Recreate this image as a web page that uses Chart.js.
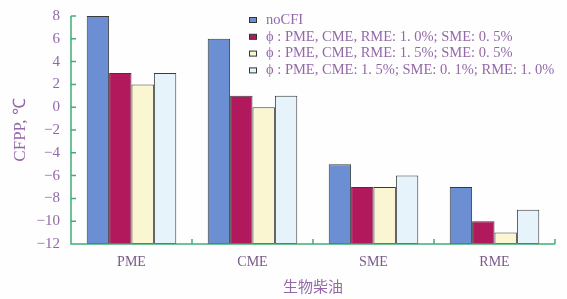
<!DOCTYPE html>
<html><head><meta charset="utf-8">
<script src="https://cdn.jsdelivr.net/npm/chart.js@4"></script>
<style>html,body{margin:0;padding:0;background:#fefefe}#c{display:block}</style>
</head><body>
<canvas id="c" width="567" height="299"></canvas>
<script>
const categories = ["PME", "CME", "SME", "RME"];
const seriesLabels = [
  "noCFI",
  "\u03d5 : PME, CME, RME: 1. 0%; SME: 0. 5%",
  "\u03d5 : PME, CME, RME: 1. 5%; SME: 0. 5%",
  "\u03d5 : PME, CME: 1. 5%; SME: 0. 1%; RME: 1. 0%"
];
const noCFI = [8, 6, -5, -7];
const cfiA = [3, 1, -7, -10];
const cfiB = [2, 0, -7, -11];
const cfiC = [3, 1, -6, -9];
const yTicks = [8, 6, 4, 2, 0, -2, -4, -6, -8, -10, -12];
const yMin = -12, yMax = 8;

const fills = ["#6b8fd2", "#b2185c", "#fbf6d2", "#e6f3fa"];
const purple = "#9468a8";
const green = "#3fae76";
const serif = "'Liberation Serif', 'Times New Roman', serif";

const decor = {
  id: 'decor',
  afterDraw(chart) {
    const ctx = chart.ctx, a = chart.chartArea;
    const xs = chart.scales.x, ys = chart.scales.y;
    ctx.save();
    ctx.strokeStyle = green; ctx.lineWidth = 1.5;
    ctx.beginPath();
    ctx.moveTo(a.left, a.top); ctx.lineTo(a.left, a.bottom); ctx.lineTo(a.right, a.bottom);
    yTicks.forEach(v => { const y = ys.getPixelForValue(v); ctx.moveTo(a.left, y); ctx.lineTo(a.left + 5, y); });
    const step = xs.getPixelForValue(1) - xs.getPixelForValue(0);
    for (let i = 0; i < categories.length; i++) {
      const x = xs.getPixelForValue(i) + step / 2;
      ctx.moveTo(x, a.bottom); ctx.lineTo(x, a.bottom - 5);
    }
    ctx.stroke();
    ctx.font = "14.5px " + serif;
    ctx.textBaseline = "middle";
    chart.data.datasets.forEach((ds, i) => {
      const y = 20 + i * 16.8;
      ctx.fillStyle = ds.backgroundColor;
      ctx.strokeStyle = "#333";
      ctx.lineWidth = 1;
      ctx.fillRect(249.5, y - 2.5, 7, 5);
      ctx.strokeRect(249.5, y - 2.5, 7, 5);
      ctx.fillStyle = purple;
      ctx.fillText(ds.label, 266, y);
    });
    ctx.restore();
  }
};

new Chart(document.getElementById('c'), {
  type: 'bar',
  data: {
    labels: categories,
    datasets: [noCFI, cfiA, cfiB, cfiC].map((d, i) => ({
      label: seriesLabels[i],
      data: d,
      base: yMin,
      backgroundColor: fills[i],
      borderColor: "#3a3a3a",
      borderWidth: 1,
      borderSkipped: false,
      barPercentage: 1,
      categoryPercentage: 0.74
    }))
  },
  options: {
    responsive: false,
    animation: false,
    layout: { padding: { top: 16, right: 12, left: 6, bottom: 0 } },
    plugins: { legend: { display: false }, tooltip: { enabled: false } },
    scales: {
      x: {
        grid: { display: false, drawTicks: false },
        border: { display: false },
        ticks: { color: "#7a5a8a", font: { family: serif, size: 14 }, padding: 10 },
        title: { display: true, text: "生物柴油", color: purple, font: { family: "'Noto Sans CJK SC'", size: 15 }, padding: { top: 0 } },
        afterFit(s) { s.height = 55; s.paddingLeft = 0; s.paddingRight = 0; }
      },
      y: {
        min: yMin, max: yMax,
        afterBuildTicks(s) { s.ticks = yTicks.map(v => ({ value: v })); },
        grid: { display: false, drawTicks: false },
        border: { display: false },
        ticks: {
          color: purple, font: { family: serif, size: 15 }, padding: 11,
          callback: v => String(v).replace('-', '\u2212')
        },
        title: { display: true, text: "CFPP, \u2103", color: purple, font: { family: serif, size: 17 } },
        afterFit(s) { s.width = 65; s.paddingTop = 0; s.paddingBottom = 0; }
      }
    }
  },
  plugins: [decor]
});
</script>
</body></html>
